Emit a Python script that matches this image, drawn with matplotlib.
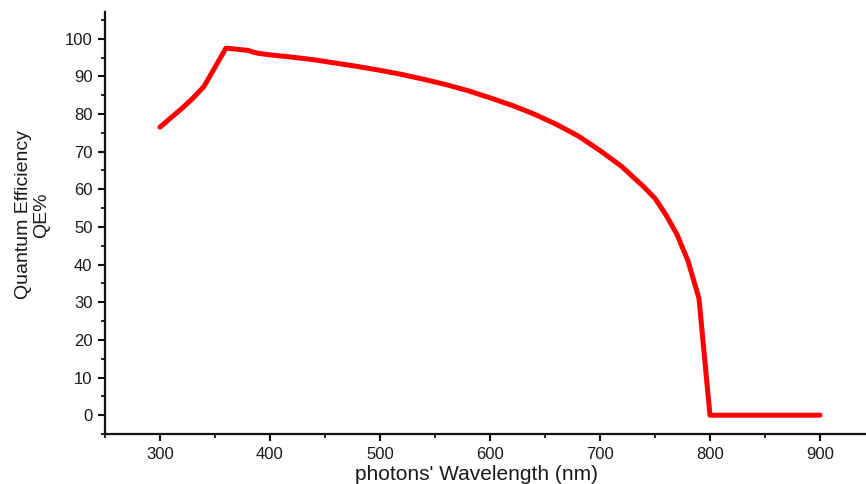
import numpy as np
import matplotlib
matplotlib.use("Agg")
import matplotlib.pyplot as plt
from matplotlib.ticker import MultipleLocator

# wavelength (nm) and quantum efficiency (%)
wavelength = [300, 310, 320, 330, 340, 350, 360, 370, 380, 385, 390, 400,
              420, 440, 460, 480, 500, 520, 540, 560, 580, 600, 620, 640,
              660, 680, 700, 720, 740, 750, 760, 770, 780, 790, 800, 900]
qe = [76.5, 79.0, 81.5, 84.2, 87.3, 92.4, 97.5, 97.2, 96.9, 96.4, 96.1, 95.7,
      95.1, 94.4, 93.5, 92.6, 91.6, 90.5, 89.2, 87.8, 86.2, 84.3, 82.3, 80.0,
      77.3, 74.2, 70.3, 66.0, 60.6, 57.6, 53.2, 48.0, 41.0, 31.0, 0.0, 0.0]

plt.rcParams['font.family'] = ['Liberation Sans', 'DejaVu Sans']

fig = plt.figure(figsize=(8.66, 4.84), dpi=100)
ax = fig.add_axes([0.1212, 0.1033, 0.879, 0.872])

ax.plot(wavelength, qe, color='#ff0000', lw=3.6, solid_capstyle='round',
        solid_joinstyle='round')

ax.set_xlim(250, 942)
ax.set_ylim(-5, 107.1)
ax.xaxis.set_major_locator(MultipleLocator(100))
ax.xaxis.set_minor_locator(MultipleLocator(50))
ax.yaxis.set_major_locator(MultipleLocator(10))
ax.yaxis.set_minor_locator(MultipleLocator(5))
ax.set_yticks(range(0, 101, 10))

for s in ['top', 'right']:
    ax.spines[s].set_visible(False)
for s in ['left', 'bottom']:
    ax.spines[s].set_linewidth(1.6)
    ax.spines[s].set_color('#111111')

ax.tick_params(which='major', length=5, width=1.5, labelsize=12,
               labelcolor='#1a1a1a', color='#111111', pad=4)
ax.tick_params(which='minor', length=3, width=1.3, color='#111111')

ax.set_xlabel("photons' Wavelength (nm)", fontsize=15, color='#1a1a1a')
ax.xaxis.set_label_coords(0.4875, -0.095)
ax.xaxis.label.set_va('center')

ax.set_ylabel("Quantum Efficiency\nQE%", fontsize=14, color='#1a1a1a',
              linespacing=1.15)
ax.yaxis.set_label_coords(-0.095, 0.519)
ax.yaxis.label.set_va('center')

fig.savefig("out.png", dpi=100)
